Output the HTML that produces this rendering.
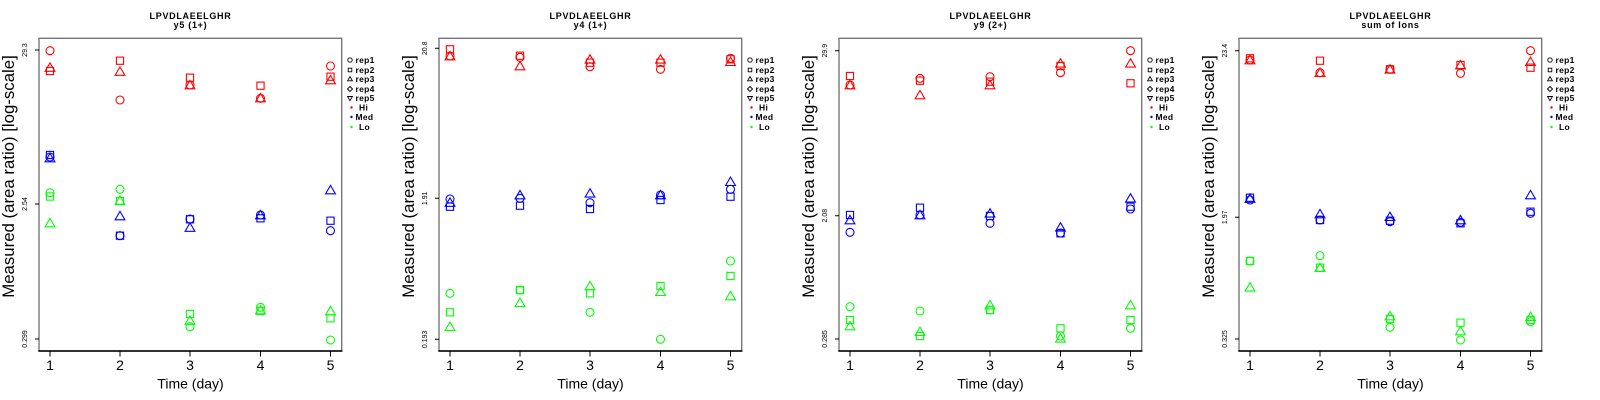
<!DOCTYPE html>
<html><head><meta charset="utf-8"><style>
html,body{margin:0;padding:0;background:#fff;}
svg{display:block;font-family:"Liberation Sans",Arial,sans-serif;}
.t1{font-size:9px;font-weight:bold;text-anchor:middle;letter-spacing:0.7px;}
.xl{font-size:14px;text-anchor:middle;}
.yl{font-size:7px;text-anchor:middle;}
.yt{font-size:16.8px;text-anchor:middle;}
.lg{font-size:8.5px;font-weight:bold;letter-spacing:0.3px;}
</style></head><body>
<svg width="1600" height="400" viewBox="0 0 1600 400" xmlns="http://www.w3.org/2000/svg" xmlns:xlink="http://www.w3.org/1999/xlink">
<defs>
<circle id="c" r="4" fill="none"/>
<rect id="s" x="-3.6" y="-3.6" width="7.2" height="7.2" fill="none"/>
<path id="t" d="M0,-5.6L4.9,2.8L-4.9,2.8Z" fill="none"/>
<g id="frame">
<rect x="39" y="38.3" width="302.7" height="312.7" fill="none" stroke="#777" stroke-width="1.4"/>
<line x1="38.3" y1="351" x2="342.4" y2="351" stroke="#000" stroke-width="1.4"/>
<path d="M50,351V356.5M120,351V356.5M190,351V356.5M260.5,351V356.5M330.5,351V356.5" stroke="#000" stroke-width="1" fill="none"/>
<text x="50" y="370" class="xl">1</text>
<text x="120" y="370" class="xl">2</text>
<text x="190" y="370" class="xl">3</text>
<text x="260.5" y="370" class="xl">4</text>
<text x="330.5" y="370" class="xl">5</text>
<text x="190.5" y="388.5" class="xl">Time (day)</text>
<text transform="translate(14,176.5) rotate(-90)" class="yt">Measured (area ratio) [log-scale]</text>
<g fill="none" stroke="#000" stroke-width="0.9">
<circle cx="350" cy="60" r="2.2"/>
<rect x="348.2" y="68.2" width="3.6" height="3.6"/>
<path d="M350,76.6L352.4,80.8L347.6,80.8Z"/>
<path d="M350,86.5L352.5,89L350,91.5L347.5,89Z"/>
<path d="M350,100.7L352.4,96.5L347.6,96.5Z"/>
</g>
<circle cx="351.5" cy="107.5" r="1.2" fill="#f00"/>
<circle cx="351.5" cy="117" r="1.2" fill="#00f"/>
<circle cx="351.5" cy="127" r="1.2" fill="#0f0"/>
<text x="355.5" y="63" class="lg">rep1</text>
<text x="355.5" y="72.8" class="lg">rep2</text>
<text x="355.5" y="82.2" class="lg">rep3</text>
<text x="355.5" y="92" class="lg">rep4</text>
<text x="355.5" y="101.2" class="lg">rep5</text>
<text x="359" y="110.3" class="lg">Hi</text>
<text x="355.5" y="119.8" class="lg">Med</text>
<text x="359" y="129.8" class="lg">Lo</text>
</g>
</defs>

<!-- Panel 1 -->
<g transform="translate(0,0)">
<use xlink:href="#frame"/>
<text x="190.5" y="19.2" class="t1">LPVDLAEELGHR</text>
<text x="190.5" y="28.2" class="t1">y5 (1+)</text>
<path d="M35,50H39M35,204H39M35,339H39" stroke="#000" stroke-width="1"/>
<text transform="translate(27,50) rotate(-90)" class="yl">29.3</text>
<text transform="translate(27,204) rotate(-90)" class="yl">2.54</text>
<text transform="translate(27,339) rotate(-90)" class="yl">0.299</text>
<g stroke="#f00" stroke-width="1.1">
<use xlink:href="#c" x="50" y="50.7"/><use xlink:href="#t" x="50" y="68.5"/><use xlink:href="#s" x="50" y="71"/>
<use xlink:href="#s" x="120" y="60.7"/><use xlink:href="#t" x="120" y="72.5"/><use xlink:href="#c" x="120" y="100"/>
<use xlink:href="#s" x="190" y="77.7"/><use xlink:href="#c" x="190" y="85"/><use xlink:href="#t" x="190" y="86"/>
<use xlink:href="#s" x="260.5" y="85.7"/><use xlink:href="#c" x="260.5" y="98.3"/><use xlink:href="#t" x="260.5" y="99"/>
<use xlink:href="#c" x="330.5" y="66"/><use xlink:href="#s" x="330.5" y="76.7"/><use xlink:href="#t" x="330.5" y="81"/>
</g>
<g stroke="#00f" stroke-width="1.1">
<use xlink:href="#s" x="50" y="155"/><use xlink:href="#c" x="50" y="157"/><use xlink:href="#t" x="50" y="159"/>
<use xlink:href="#t" x="120" y="217"/><use xlink:href="#s" x="120" y="235.7"/><use xlink:href="#c" x="120" y="235.7"/>
<use xlink:href="#c" x="190" y="219"/><use xlink:href="#s" x="190" y="219.3"/><use xlink:href="#t" x="190" y="228.5"/>
<use xlink:href="#c" x="260.5" y="215"/><use xlink:href="#t" x="260.5" y="216"/><use xlink:href="#s" x="260.5" y="218.3"/>
<use xlink:href="#t" x="330.5" y="191"/><use xlink:href="#s" x="330.5" y="220.7"/><use xlink:href="#c" x="330.5" y="230.7"/>
</g>
<g stroke="#0f0" stroke-width="1.1">
<use xlink:href="#c" x="50" y="192.7"/><use xlink:href="#s" x="50" y="196.5"/><use xlink:href="#t" x="50" y="224"/>
<use xlink:href="#c" x="120" y="189.3"/><use xlink:href="#s" x="120" y="201"/><use xlink:href="#t" x="120" y="201.5"/>
<use xlink:href="#s" x="190" y="314"/><use xlink:href="#t" x="190" y="321.5"/><use xlink:href="#c" x="190" y="326.7"/>
<use xlink:href="#c" x="260.5" y="307.3"/><use xlink:href="#s" x="260.5" y="311"/><use xlink:href="#t" x="260.5" y="311"/>
<use xlink:href="#t" x="330.5" y="312"/><use xlink:href="#s" x="330.5" y="318.3"/><use xlink:href="#c" x="330.5" y="340"/>
</g>
</g>

<!-- Panel 2 -->
<g transform="translate(400,0)">
<use xlink:href="#frame"/>
<text x="190.5" y="19.2" class="t1">LPVDLAEELGHR</text>
<text x="190.5" y="28.2" class="t1">y4 (1+)</text>
<path d="M35,48.3H39M35,198.3H39M35,339.3H39" stroke="#000" stroke-width="1"/>
<text transform="translate(27,48.3) rotate(-90)" class="yl">20.8</text>
<text transform="translate(27,198.3) rotate(-90)" class="yl">1.91</text>
<text transform="translate(27,339.3) rotate(-90)" class="yl">0.193</text>
<g stroke="#f00" stroke-width="1.1">
<use xlink:href="#s" x="50" y="49.3"/><use xlink:href="#c" x="50" y="56"/><use xlink:href="#t" x="50" y="57"/>
<use xlink:href="#s" x="120" y="55.7"/><use xlink:href="#c" x="120" y="57.3"/><use xlink:href="#t" x="120" y="67"/>
<use xlink:href="#t" x="190" y="60.3"/><use xlink:href="#s" x="190" y="62.7"/><use xlink:href="#c" x="190" y="66.7"/>
<use xlink:href="#t" x="260.5" y="60.3"/><use xlink:href="#s" x="260.5" y="62.7"/><use xlink:href="#c" x="260.5" y="69.3"/>
<use xlink:href="#c" x="330.5" y="58.3"/><use xlink:href="#s" x="330.5" y="59.3"/><use xlink:href="#t" x="330.5" y="62.7"/>
</g>
<g stroke="#00f" stroke-width="1.1">
<use xlink:href="#c" x="50" y="199"/><use xlink:href="#t" x="50" y="203.5"/><use xlink:href="#s" x="50" y="206.7"/>
<use xlink:href="#t" x="120" y="196"/><use xlink:href="#c" x="120" y="198.3"/><use xlink:href="#s" x="120" y="205.7"/>
<use xlink:href="#t" x="190" y="194.3"/><use xlink:href="#c" x="190" y="202.7"/><use xlink:href="#s" x="190" y="209"/>
<use xlink:href="#c" x="260.5" y="195"/><use xlink:href="#t" x="260.5" y="196"/><use xlink:href="#s" x="260.5" y="200"/>
<use xlink:href="#t" x="330.5" y="182.7"/><use xlink:href="#c" x="330.5" y="189.3"/><use xlink:href="#s" x="330.5" y="196.7"/>
</g>
<g stroke="#0f0" stroke-width="1.1">
<use xlink:href="#c" x="50" y="293.3"/><use xlink:href="#s" x="50" y="312.3"/><use xlink:href="#t" x="50" y="327.7"/>
<use xlink:href="#c" x="120" y="290"/><use xlink:href="#s" x="120" y="290"/><use xlink:href="#t" x="120" y="303.7"/>
<use xlink:href="#t" x="190" y="287"/><use xlink:href="#s" x="190" y="293.3"/><use xlink:href="#c" x="190" y="312.3"/>
<use xlink:href="#s" x="260.5" y="286"/><use xlink:href="#t" x="260.5" y="292.7"/><use xlink:href="#c" x="260.5" y="339.3"/>
<use xlink:href="#c" x="330.5" y="261"/><use xlink:href="#s" x="330.5" y="276"/><use xlink:href="#t" x="330.5" y="297"/>
</g>
</g>

<!-- Panel 3 -->
<g transform="translate(800,0)">
<use xlink:href="#frame"/>
<text x="190.5" y="19.2" class="t1">LPVDLAEELGHR</text>
<text x="190.5" y="28.2" class="t1">y9 (2+)</text>
<path d="M35,50.7H39M35,215.7H39M35,339H39" stroke="#000" stroke-width="1"/>
<text transform="translate(27,50.7) rotate(-90)" class="yl">29.9</text>
<text transform="translate(27,215.7) rotate(-90)" class="yl">2.08</text>
<text transform="translate(27,339) rotate(-90)" class="yl">0.285</text>
<g stroke="#f00" stroke-width="1.1">
<use xlink:href="#s" x="50" y="76"/><use xlink:href="#c" x="50" y="85"/><use xlink:href="#t" x="50" y="86"/>
<use xlink:href="#c" x="120" y="78.3"/><use xlink:href="#s" x="120" y="80.7"/><use xlink:href="#t" x="120" y="96"/>
<use xlink:href="#c" x="190" y="76.7"/><use xlink:href="#s" x="190" y="81.7"/><use xlink:href="#t" x="190" y="86"/>
<use xlink:href="#t" x="260.5" y="64.3"/><use xlink:href="#s" x="260.5" y="66"/><use xlink:href="#c" x="260.5" y="72.7"/>
<use xlink:href="#c" x="330.5" y="50.7"/><use xlink:href="#t" x="330.5" y="64.3"/><use xlink:href="#s" x="330.5" y="83.3"/>
</g>
<g stroke="#00f" stroke-width="1.1">
<use xlink:href="#s" x="50" y="215"/><use xlink:href="#t" x="50" y="221"/><use xlink:href="#c" x="50" y="232.3"/>
<use xlink:href="#s" x="120" y="207.7"/><use xlink:href="#c" x="120" y="215"/><use xlink:href="#t" x="120" y="216"/>
<use xlink:href="#t" x="190" y="214.3"/><use xlink:href="#s" x="190" y="216"/><use xlink:href="#c" x="190" y="223.3"/>
<use xlink:href="#t" x="260.5" y="228.3"/><use xlink:href="#s" x="260.5" y="233.3"/><use xlink:href="#c" x="260.5" y="233"/>
<use xlink:href="#t" x="330.5" y="199.3"/><use xlink:href="#s" x="330.5" y="206.7"/><use xlink:href="#c" x="330.5" y="209"/>
</g>
<g stroke="#0f0" stroke-width="1.1">
<use xlink:href="#c" x="50" y="306.7"/><use xlink:href="#s" x="50" y="320"/><use xlink:href="#t" x="50" y="327"/>
<use xlink:href="#c" x="120" y="311"/><use xlink:href="#t" x="120" y="332.7"/><use xlink:href="#s" x="120" y="336"/>
<use xlink:href="#t" x="190" y="306"/><use xlink:href="#s" x="190" y="310"/><use xlink:href="#c" x="190" y="310"/>
<use xlink:href="#s" x="260.5" y="328.3"/><use xlink:href="#c" x="260.5" y="336"/><use xlink:href="#t" x="260.5" y="339.3"/>
<use xlink:href="#t" x="330.5" y="306"/><use xlink:href="#s" x="330.5" y="320"/><use xlink:href="#c" x="330.5" y="328.3"/>
</g>
</g>

<!-- Panel 4 -->
<g transform="translate(1200,0)">
<use xlink:href="#frame"/>
<text x="190.5" y="19.2" class="t1">LPVDLAEELGHR</text>
<text x="190.5" y="28.2" class="t1">sum of Ions</text>
<path d="M35,50.7H39M35,217.3H39M35,339H39" stroke="#000" stroke-width="1"/>
<text transform="translate(27,50.7) rotate(-90)" class="yl">23.4</text>
<text transform="translate(27,217.3) rotate(-90)" class="yl">1.97</text>
<text transform="translate(27,339) rotate(-90)" class="yl">0.325</text>
<g stroke="#f00" stroke-width="1.1">
<use xlink:href="#s" x="50" y="58.3"/><use xlink:href="#c" x="50" y="60"/><use xlink:href="#t" x="50" y="61"/>
<use xlink:href="#s" x="120" y="60.7"/><use xlink:href="#c" x="120" y="72.7"/><use xlink:href="#t" x="120" y="73.7"/>
<use xlink:href="#s" x="190" y="69.3"/><use xlink:href="#c" x="190" y="69.3"/><use xlink:href="#t" x="190" y="70.3"/>
<use xlink:href="#s" x="260.5" y="65"/><use xlink:href="#t" x="260.5" y="66"/><use xlink:href="#c" x="260.5" y="73.3"/>
<use xlink:href="#c" x="330.5" y="50.7"/><use xlink:href="#t" x="330.5" y="62.7"/><use xlink:href="#s" x="330.5" y="67.7"/>
</g>
<g stroke="#00f" stroke-width="1.1">
<use xlink:href="#s" x="50" y="197.7"/><use xlink:href="#t" x="50" y="199.5"/><use xlink:href="#c" x="50" y="200"/>
<use xlink:href="#t" x="120" y="215"/><use xlink:href="#c" x="120" y="220"/><use xlink:href="#s" x="120" y="220"/>
<use xlink:href="#t" x="190" y="217.7"/><use xlink:href="#s" x="190" y="220.7"/><use xlink:href="#c" x="190" y="221.7"/>
<use xlink:href="#t" x="260.5" y="221"/><use xlink:href="#c" x="260.5" y="222.3"/><use xlink:href="#s" x="260.5" y="223.3"/>
<use xlink:href="#t" x="330.5" y="196"/><use xlink:href="#s" x="330.5" y="211.7"/><use xlink:href="#c" x="330.5" y="213.3"/>
</g>
<g stroke="#0f0" stroke-width="1.1">
<use xlink:href="#c" x="50" y="261"/><use xlink:href="#s" x="50" y="261"/><use xlink:href="#t" x="50" y="288.3"/>
<use xlink:href="#c" x="120" y="255.7"/><use xlink:href="#s" x="120" y="267.7"/><use xlink:href="#t" x="120" y="268.7"/>
<use xlink:href="#t" x="190" y="317"/><use xlink:href="#s" x="190" y="319"/><use xlink:href="#c" x="190" y="327.3"/>
<use xlink:href="#s" x="260.5" y="322.7"/><use xlink:href="#t" x="260.5" y="332"/><use xlink:href="#c" x="260.5" y="340"/>
<use xlink:href="#t" x="330.5" y="317.7"/><use xlink:href="#s" x="330.5" y="320"/><use xlink:href="#c" x="330.5" y="321.7"/>
</g>
</g>
</svg>
</body></html>
